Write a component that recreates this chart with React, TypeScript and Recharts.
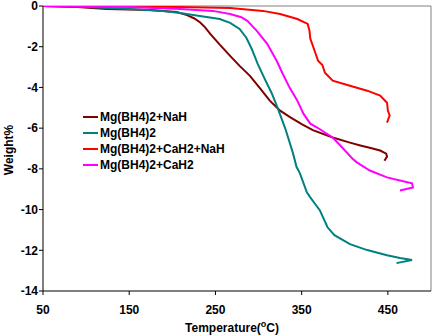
import { Line, LineChart, ReferenceLine, XAxis, YAxis } from "recharts"

// temperature (°C) / weight loss (%)
const nahT = [50, 90, 124, 174, 205, 217, 225, 232, 238, 244, 255, 267, 278, 290, 302, 313, 325, 336, 350, 363, 386, 405, 418, 430, 441, 448, 449, 446]
const nahW = [0, -0.05, -0.15, -0.2, -0.3, -0.45, -0.6, -0.8, -1.05, -1.37, -1.9, -2.45, -2.94, -3.43, -4.06, -4.65, -5.14, -5.45, -5.8, -6.1, -6.46, -6.7, -6.85, -6.98, -7.1, -7.25, -7.4, -7.6]

const mgT = [50, 100, 151, 189, 209, 232, 255, 267, 278, 286, 292, 299, 307, 315, 322, 331, 340, 344, 348, 356, 360, 365, 371, 380, 388, 406, 426, 449, 464, 478, 460]
const mgW = [0, -0.05, -0.15, -0.24, -0.34, -0.49, -0.64, -0.83, -1.13, -1.57, -2.1, -2.84, -3.57, -4.26, -4.99, -6.02, -7.24, -7.9, -8.22, -9.15, -9.4, -9.69, -10.03, -10.87, -11.26, -11.7, -11.99, -12.24, -12.38, -12.48, -12.63]

const cnT = [50, 150, 209, 267, 305, 325, 345, 357, 359, 360, 365, 369, 374, 377, 386, 406, 426, 441, 449, 450, 452, 449]
const cnW = [0, -0.02, -0.05, -0.1, -0.24, -0.39, -0.64, -0.88, -1.2, -1.6, -2.2, -2.69, -2.9, -3.28, -3.67, -3.92, -4.16, -4.4, -4.75, -5.14, -5.38, -5.73]

const caT = [50, 150, 209, 247, 267, 280, 287, 298, 310, 321, 328, 336, 345, 352, 360, 368, 386, 397, 409, 414, 429, 449, 464, 478, 479, 464]
const caW = [0, -0.05, -0.15, -0.24, -0.39, -0.55, -0.73, -1.22, -1.86, -2.69, -3.33, -4.01, -4.65, -5.29, -5.78, -5.97, -6.46, -6.95, -7.5, -7.68, -8.08, -8.42, -8.57, -8.71, -8.91, -9.06]

const xTicks = [50, 150, 250, 350, 450]
const yTicks = [0, -2, -4, -6, -8, -10, -12, -14]

const toPts = (t: number[], w: number[]) => t.map((v, i) => ({ t: v, w: w[i] }))

const series = [
  { name: "Mg(BH4)2+NaH", color: "#800000", data: toPts(nahT, nahW) },
  { name: "Mg(BH4)2", color: "#008080", data: toPts(mgT, mgW) },
  { name: "Mg(BH4)2+CaH2+NaH", color: "#FF0000", data: toPts(cnT, cnW) },
  { name: "Mg(BH4)2+CaH2", color: "#FF00FF", data: toPts(caT, caW) },
]

const font = "Arial, 'Liberation Sans', sans-serif"
const tickStyle = { fill: "#000", fontSize: 12, fontWeight: "bold", fontFamily: font }

function LegendBox() {
  return (
    <div style={{ position: "absolute", left: 83, top: 109, fontFamily: font, fontSize: 12, fontWeight: "bold", color: "#000" }}>
      {series.map((s) => (
        <div key={s.name} style={{ display: "flex", alignItems: "center", height: 16, whiteSpace: "nowrap" }}>
          <span style={{ display: "inline-block", width: 15, height: 2, background: s.color, marginRight: 2 }} />
          <span>{s.name}</span>
        </div>
      ))}
    </div>
  )
}

export default function App() {
  return (
    <div style={{ position: "absolute", left: 0, top: 0, width: 434, height: 336 }}>
      <LineChart width={434} height={336} margin={{ top: 6, right: 3, bottom: 0, left: 0 }}>
        <XAxis
          dataKey="t"
          type="number"
          domain={[50, 500]}
          ticks={xTicks}
          interval={0}
          allowDataOverflow
          height={45}
          stroke="#000"
          tickSize={4}
          tickMargin={10}
          tick={tickStyle}
          label={{
            content: () => (
              <text x={232} y={332} textAnchor="middle" fontFamily={font} fontSize={12} fontWeight="bold" fill="#000">
                <tspan>Temperature(</tspan>
                <tspan dy={-5} fontSize={9}>o</tspan>
                <tspan dy={5}>C)</tspan>
              </text>
            ),
          }}
        />
        <YAxis
          type="number"
          domain={[-14, 0]}
          ticks={yTicks}
          interval={0}
          allowDataOverflow
          width={43}
          stroke="#000"
          tickSize={4}
          tickMargin={1}
          tick={tickStyle}
          label={{
            content: () => (
              <text x={13} y={150} transform="rotate(-90, 13, 150)" textAnchor="middle" fontFamily={font} fontSize={12} fontWeight="bold" fill="#000">
                Weight%
              </text>
            ),
          }}
        />
        <ReferenceLine y={0} stroke="#808080" strokeWidth={1} />
        <ReferenceLine x={500} stroke="#808080" strokeWidth={1} />
        {series.map((s) => (
          <Line
            key={s.name}
            data={s.data}
            dataKey="w"
            name={s.name}
            stroke={s.color}
            strokeWidth={2}
            dot={false}
            isAnimationActive={false}
          />
        ))}
      </LineChart>
      <LegendBox />
    </div>
  )
}
